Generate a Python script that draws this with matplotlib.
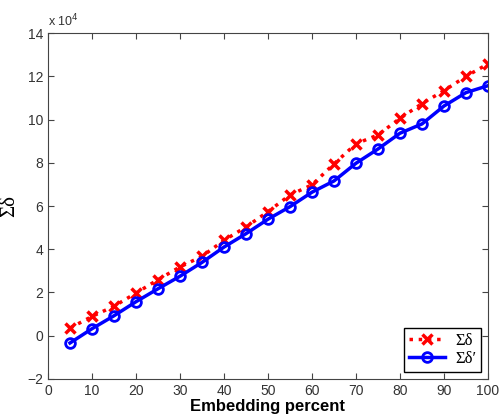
import numpy as np
import matplotlib
matplotlib.use("Agg")
import matplotlib.pyplot as plt

# data (values in units of 1e4)
percent = [5, 10, 15, 20, 25, 30, 35, 40, 45, 50, 55, 60, 65, 70, 75, 80, 85, 90, 95, 100]
sum_delta = [0.35, 0.89, 1.36, 1.97, 2.59, 3.18, 3.67, 4.41, 5.03, 5.74, 6.51, 6.98,
             7.95, 8.88, 9.29, 10.06, 10.74, 11.34, 12.0, 12.58]
sum_delta_p = [-0.34, 0.32, 0.92, 1.57, 2.17, 2.75, 3.39, 4.1, 4.72, 5.39, 5.97, 6.64,
               7.16, 7.98, 8.64, 9.37, 9.8, 10.63, 11.25, 11.57]

xticks = [0, 10, 20, 30, 40, 50, 60, 70, 80, 90, 100]
yticks = [-2, 0, 2, 4, 6, 8, 10, 12, 14]

plt.rcParams['font.family'] = ['Liberation Sans', 'DejaVu Sans']
serif = ['Liberation Serif', 'DejaVu Serif']

fig = plt.figure(figsize=(5, 4.2), dpi=100)
ax = fig.add_axes([0.096, 0.098, 0.88, 0.823])

ax.plot(percent, sum_delta, color='red', linestyle=':', linewidth=2.5,
        marker='x', markersize=7, markeredgewidth=2.5, label='Σδ')
ax.plot(percent, sum_delta_p, color='blue', linestyle='-', linewidth=2.5,
        marker='o', markersize=7, markerfacecolor='none', markeredgewidth=2,
        label='Σδ′')

ax.set_xlim(0, 100)
ax.set_ylim(-2, 14)
ax.set_xticks(xticks)
ax.set_yticks(yticks)
ax.tick_params(direction='in', top=True, right=True, labelsize=10,
               labelcolor='#333333', color='#444444', length=4)
for s in ax.spines.values():
    s.set_color('#444444')

ax.set_xlabel('Embedding percent', fontsize=12, fontweight='bold', labelpad=1)
ax.set_ylabel('Σδ', fontsize=15, family=serif, labelpad=6)
ax.text(0, 1.01, r'x 10$^4$', transform=ax.transAxes, fontsize=9,
        color='#333333', va='bottom', ha='left')

leg = ax.legend(loc='lower right', prop={'family': serif, 'size': 12},
                fancybox=False, framealpha=1, edgecolor='black',
                borderaxespad=0.4, handlelength=2.2, labelspacing=0.15,
                borderpad=0.3, handletextpad=0.6)
leg.get_frame().set_linewidth(1)

fig.savefig('out.png', dpi=100)
